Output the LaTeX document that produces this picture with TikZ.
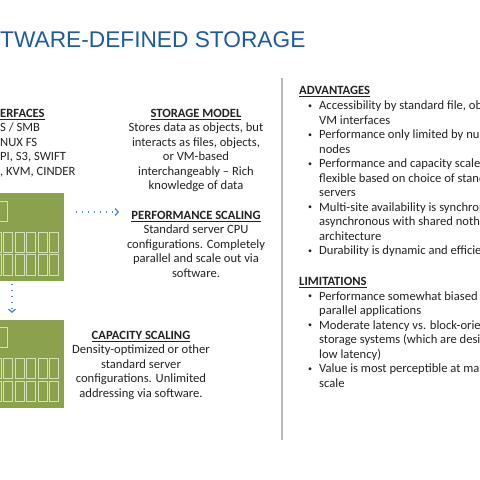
\documentclass[tikz,border=0pt]{standalone}
\usepackage{fontspec}
\setmainfont{Carlito}
\newfontfamily\titlefont{Liberation Sans}
\usetikzlibrary{arrows.meta}
\definecolor{titleblue}{RGB}{30,92,160}
\definecolor{boxgreen}{RGB}{138,162,78}
\definecolor{slotline}{RGB}{212,224,182}
\definecolor{arrowblue}{RGB}{90,140,205}
\definecolor{bodytext}{RGB}{35,35,35}
\definecolor{sepgray}{RGB}{185,185,185}
\tikzset{
  body/.style={font=\fontsize{12.6}{14.5}\selectfont, text=bodytext, inner sep=0pt},
  centered/.style={body, align=center, anchor=north},
  lefttext/.style={body, align=left, anchor=north west},
  bulletmark/.style={body, anchor=north},
  greenbox/.style={fill=boxgreen, draw=none, minimum width=124pt, minimum height=88pt, inner sep=0pt},
  slot/.style={draw=slotline, line width=0.9pt},
  flowarrow/.style={arrowblue, line width=1.3pt, dash pattern=on 1.3pt off 4.7pt,
    -{Straight Barb[length=3pt,width=7pt,line width=1.4pt]}},
}
\newcommand{\hdr}[1]{\underline{\textbf{#1}}}
\newcommand{\smallbullet}{\raisebox{0.3ex}{\fontsize{8}{8}\selectfont\textbullet}}
\begin{document}
\begin{tikzpicture}[x=1pt,y=-1pt]
\useasboundingbox (0,0) rectangle (480,480);
\clip (0,0) rectangle (480,480);

% title
\node[anchor=base west, inner sep=0pt, text=titleblue,
      font=\titlefont\fontsize{22.7}{26}\selectfont] (title) at (0,47) {TWARE-DEFINED STORAGE};

% left column
\node[lefttext] (interfaces) at (0,107) {\strut\hdr{ERFACES}\\ S / SMB\\ NUX FS\\ PI, S3, SWIFT\\ , KVM, CINDER};

% storage model
\node[centered] (storage) at (196,107) {\strut\hdr{STORAGE MODEL}\\ Stores data as objects, but\\ interacts as files, objects,\\ or VM-based\\ interchangeably -- Rich\\ knowledge of data};

% green boxes
\node[greenbox] (box1) at (2,237) {};
\node[greenbox] (box2) at (2,363.5) {};
\foreach \dy in {0,126.5}{
  \draw[slot] (-20,201+\dy) rectangle (7.3,221+\dy);
  \foreach \k in {0,...,5}{
    \draw[slot] (49.5-11.5*\k,232+\dy) rectangle (58.5-11.5*\k,252+\dy);
    \draw[slot] (49.5-11.5*\k,254.5+\dy) rectangle (58.5-11.5*\k,275+\dy);
  }
}

% performance scaling
\node[centered] (perf) at (196,209) {\strut\hdr{PERFORMANCE SCALING}\\ Standard server CPU\\ configurations. Completely\\ parallel and scale out via\\ software.};

% capacity scaling
\node[centered] (cap) at (141,329) {\strut\hdr{CAPACITY SCALING}\\ Density-optimized or other\\ standard server\\ configurations. Unlimited\\ addressing via software.};

% arrows
\coordinate (h1) at (76,212);
\coordinate (h2) at (119,212);
\coordinate (v1) at (12,284);
\coordinate (v2) at (12,313);
\draw[flowarrow] (h1) -- (h2);
\draw[flowarrow] (v1) -- (v2);

% separator
\coordinate (s1) at (282,78);
\coordinate (s2) at (282,440);
\draw[sepgray, line width=1.4pt] (s1) -- (s2);

% right column
\node[lefttext] (adv) at (299,84) {\strut\hdr{ADVANTAGES}};
\foreach \y/\t [count=\i] in {
  99.5/{Accessibility by standard file, ob\\ VM interfaces},
  128.5/{Performance only limited by nu\\ nodes},
  157.5/{Performance and capacity scale\\ flexible based on choice of stand\\ servers},
  201/{Multi-site availability is synchron\\ asynchronous with shared nothi\\ architecture},
  244.5/{Durability is dynamic and efficie}}{
  \node[bulletmark] (ab\i) at (310,\y) {\strut\smallbullet};
  \node[lefttext] (at\i) at (319,\y) {\strut\t};
}
\node[lefttext] (lim) at (299,275) {\strut\hdr{LIMITATIONS}};
\foreach \y/\t [count=\i] in {
  290/{Performance somewhat biased\\ parallel applications},
  319/{Moderate latency vs. block-orien\\ storage systems (which are desig\\ low latency)},
  362.5/{Value is most perceptible at mas\\ scale}}{
  \node[bulletmark] (lb\i) at (310,\y) {\strut\smallbullet};
  \node[lefttext] (lt\i) at (319,\y) {\strut\t};
}
\end{tikzpicture}
\end{document}
